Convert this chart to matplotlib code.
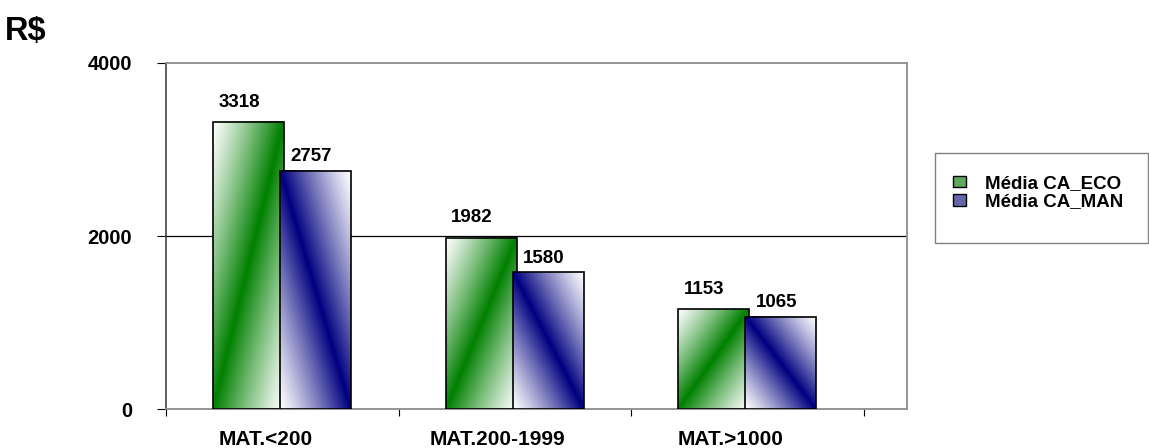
import numpy as np
import matplotlib.pyplot as plt
from matplotlib.patches import Rectangle, Patch
from matplotlib.transforms import ScaledTranslation

plt.rcParams['font.family'] = ['Liberation Sans', 'DejaVu Sans']
plt.rcParams['font.weight'] = 'bold'

categories = ['MAT.<200', 'MAT.200-1999', 'MAT.>1000']
eco_values = [3318, 1982, 1153]
man_values = [2757, 1580, 1065]
series_names = ['Média CA_ECO', 'Média CA_MAN']

GREEN = np.array([0, 128, 0]) / 255
NAVY = np.array([0, 0, 128]) / 255


def gradient(color, rising, n=300):
    # diagonal band of full colour fading to white towards two corners
    u = np.linspace(0, 1, n // 3)
    v = np.linspace(0, 1, n)
    U, V = np.meshgrid(u, v)
    d = np.abs(U - V) if rising else np.abs(U - (1 - V))
    t = np.clip(1 - d, 0, 1) ** 1.15
    return 1 - t[..., None] * (1 - color)


W, H = 1149, 448
fig = plt.figure(figsize=(W / 100, H / 100), dpi=100)
ax = fig.add_axes([166 / W, 1 - 409 / H, 741 / W, 346 / H])

x = np.arange(len(categories))
width = 0.305
off = 0.144

bars_eco = ax.bar(x - off, eco_values, width, facecolor='none',
                  edgecolor='black', lw=1.2, zorder=3)
bars_man = ax.bar(x + off, man_values, width, facecolor='none',
                  edgecolor='black', lw=1.2, zorder=5)

for bar in bars_eco:
    ax.imshow(gradient(GREEN, True),
              extent=[bar.get_x(), bar.get_x() + bar.get_width(), 0, bar.get_height()],
              origin='lower', aspect='auto', zorder=2, interpolation='bilinear')
for bar in bars_man:
    ax.imshow(gradient(NAVY, False),
              extent=[bar.get_x(), bar.get_x() + bar.get_width(), 0, bar.get_height()],
              origin='lower', aspect='auto', zorder=4, interpolation='bilinear')

for bar, v in zip(bars_eco, eco_values):
    ax.annotate(str(v), (bar.get_x() + bar.get_width() / 2, v),
                xytext=(-7, 11), textcoords='offset points',
                ha='center', va='baseline', fontsize=13.5, fontweight='bold', zorder=6)
for bar, v in zip(bars_man, man_values):
    ax.annotate(str(v), (bar.get_x() + bar.get_width() / 2, v),
                xytext=(-3, 7), textcoords='offset points',
                ha='center', va='baseline', fontsize=13.5, fontweight='bold', zorder=6)

ax.set_xlim(-0.5, 741 / 232.5 - 0.5)
ax.set_ylim(0, 4000)
ax.set_yticks([0, 2000, 4000])
ax.tick_params(axis='y', direction='out', length=6.5, width=0.8, pad=18,
               labelsize=14.5, color='black')
ax.set_xticks(x, labels=categories)
ax.set_xticks([-0.5, 0.5, 1.5, 2.5], minor=True)
ax.tick_params(axis='x', which='major', length=0, pad=15, labelsize=15)
ax.tick_params(axis='x', which='minor', direction='out', length=5, width=0.8, color='black')
for lab in ax.get_xticklabels():
    lab.set_transform(lab.get_transform() + ScaledTranslation(-0.17, 0, fig.dpi_scale_trans))
    lab.set_fontweight('bold')
for lab in ax.get_yticklabels():
    lab.set_fontweight('bold')

ax.yaxis.grid(True, color='black', lw=0.9)
ax.set_axisbelow(True)
gl = ax.get_ygridlines()
gl[0].set_visible(False)
gl[-1].set_visible(False)

for side in ['top', 'right', 'bottom']:
    ax.spines[side].set_color('#8c8c8c')
    ax.spines[side].set_linewidth(1.3)
ax.spines['left'].set_color('#333333')
ax.spines['left'].set_linewidth(1.1)

fig.text(5 / W, 1 - 40 / H, 'R$', fontsize=23.5, fontweight='bold', va='baseline')

# legend box
fig.patches.append(Rectangle((935 / W, 1 - 243 / H), 213 / W, 90 / H,
                             transform=fig.transFigure, fill=False,
                             edgecolor='#808080', lw=1.0))
handles = [Patch(facecolor='#5fa85f', edgecolor='black', lw=1.0),
           Patch(facecolor='#6666aa', edgecolor='black', lw=1.0)]
fig.legend(handles, series_names, loc='upper left',
           bbox_to_anchor=(953 / W, 1 - 175 / H), frameon=False,
           borderpad=0, borderaxespad=0, handlelength=0.7, handleheight=0.55,
           handletextpad=1.0, labelspacing=0.08,
           prop={'size': 13.5, 'weight': 'bold'})

fig.savefig('out.png', dpi=100)
